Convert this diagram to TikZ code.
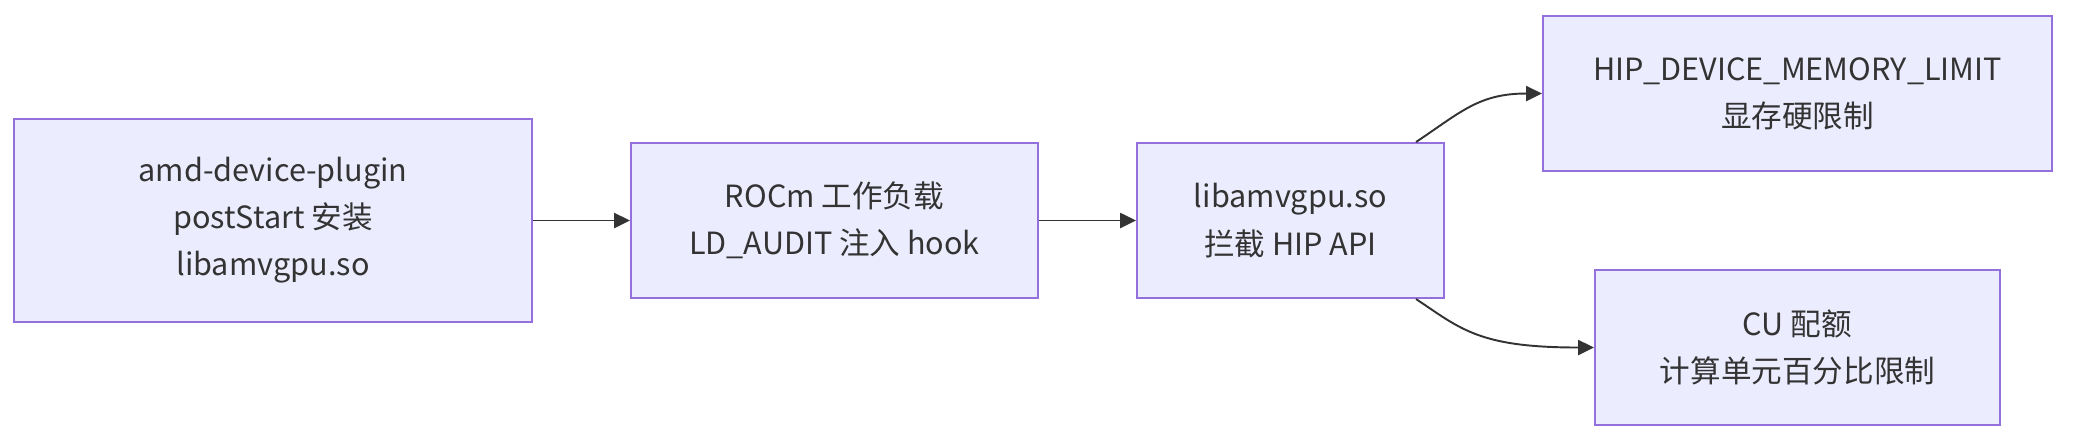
\documentclass[tikz,border=0pt]{standalone}
\usepackage{fontspec}
\setmainfont{Noto Sans CJK SC}
\usetikzlibrary{arrows.meta}
\definecolor{boxfill}{HTML}{ECECFF}
\definecolor{boxline}{HTML}{9370DB}
\definecolor{ink}{HTML}{333333}
\begin{document}
\begin{tikzpicture}[x=0.01cm, y=-0.01cm,
  box/.style={draw=boxline, fill=boxfill, line width=0.55pt, inner sep=0pt,
    minimum height=1.55cm, align=center, text=ink,
    font=\fontsize{8.7}{13.4}\selectfont},
  flow/.style={draw=ink, line width=0.55pt, -{Triangle[length=4.5pt,width=4.3pt]}}]
\useasboundingbox (0,0) rectangle (2084,444);
\node[box, minimum width=5.18cm, minimum height=2.03cm] (plugin) at (273,220.5)
  {amd-device-plugin\\postStart 安装\\libamvgpu.so};
\node[box, minimum width=4.07cm] (workload) at (834.5,220.5)
  {ROCm 工作负载\\LD\_AUDIT 注入 hook};
\node[box, minimum width=3.07cm] (hook) at (1290.5,220.5)
  {libamvgpu.so\\拦截 HIP API};
\node[box, minimum width=5.09cm] (memlimit) at (1797.5,93.5)
  {HIP\_DEVICE\_MEMORY\_LIMIT\\显存硬限制};
\node[box, minimum width=4.05cm] (cuquota) at (1797.5,347.5)
  {CU 配额\\计算单元百分比限制};

\draw[flow] (plugin) -- (workload);
\draw[flow] (workload) -- (hook);
% split to the two limits
\draw[flow] ([xshift=-0.29cm]hook.north east) .. controls +(45,-30) and +(-63,0) .. (memlimit.west);
\draw[flow] ([xshift=-0.29cm]hook.south east) .. controls +(45,30) and +(-115,0) .. (cuquota.west);
\end{tikzpicture}
\end{document}
